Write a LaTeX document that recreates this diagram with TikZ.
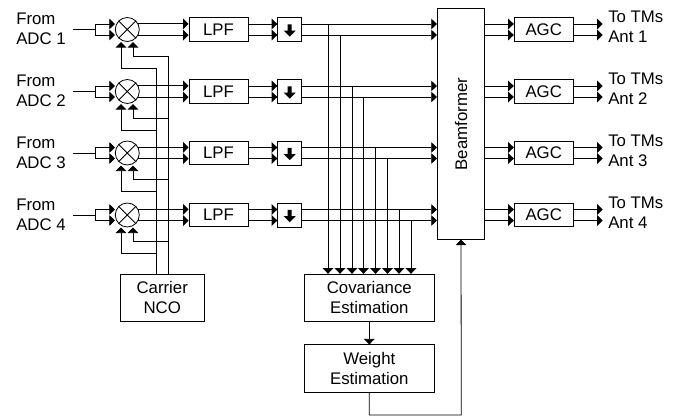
\documentclass[tikz,border=0pt]{standalone}
\usepackage{fontspec}
\setmainfont{Liberation Sans}
\usetikzlibrary{arrows.meta}
\tikzset{
  wire/.style={line width=0.6pt,draw=black},
  sig/.style={wire,-{Triangle[length=4.2pt,width=8pt]}},
  lbl/.style={font=\fontsize{12.6}{15}\selectfont,inner sep=0pt,align=center},
  side/.style={lbl,align=left,anchor=west},
  box/.style={draw=black,line width=0.6pt,fill=white,inner sep=0pt,lbl},
  lpfbox/.style={box,minimum width=44.25pt,minimum height=17.6pt},
  dsbox/.style={box,minimum width=18pt,minimum height=18pt},
  agcbox/.style={box,minimum width=44.25pt,minimum height=17.6pt},
  bigbox/.style={box,minimum width=98pt,minimum height=35.4pt},
  mixer/.style={circle,draw=black,line width=0.6pt,inner sep=0pt,minimum size=18pt,fill=white},
}
\begin{document}
\begin{tikzpicture}[x=0.75pt,y=-0.75pt]
\useasboundingbox (0,0) rectangle (682,416);
% main blocks
\node[box,minimum width=35.6pt,minimum height=172.8pt] (bf) at (461,124) {\rotatebox{90}{Beamformer}};
\node[box,minimum width=62.6pt,minimum height=35.4pt] (nco) at (162.25,297.8) {Carrier\\NCO};
\node[bigbox] (cov) at (369.3,297.8) {Covariance\\Estimation};
\node[bigbox] (wgt) at (369.3,368.5) {Weight\\Estimation};
\coordinate (busa) at (156.5,274.3);
\coordinate (busb) at (168,274.3);
\foreach \n/\c/\tx/\bx in {1/29.5/328/340,2/91.5/352/363.5,3/153/375.5/387.5,4/215/399/411}{
  \node[side] (from\n) at (16,{\c-0.5}) {From\\ADC \n};
  \coordinate (inp\n) at (73,\c);
  \coordinate (brk\n) at (95,\c);
  \coordinate (top\n) at (95,{\c-5.5});
  \coordinate (bot\n) at (95,{\c+5.5});
  \node[mixer] (mix\n) at (127.3,\c) {};
  \draw[wire] (mix\n.45) -- (mix\n.225) (mix\n.135) -- (mix\n.-45);
  \node[lpfbox] (lpf\n) at (218.5,\c) {LPF};
  \node[dsbox] (ds\n) at (289.7,\c) {};
  \fill (287.7,{\c-5.2}) -- (291.7,{\c-5.2}) -- (291.7,{\c+1.2}) -- (295.7,{\c+1.2}) -- (289.7,{\c+7.2}) -- (283.7,{\c+1.2}) -- (287.7,{\c+1.2}) -- cycle;
  \node[agcbox] (agc\n) at (543.7,\c) {AGC};
  \node[side] (out\n) at (608,{\c-2.5}) {To TMs\\Ant \n};
  \coordinate (outa\n) at (602.7,{\c-5.5});
  \coordinate (outb\n) at (602.7,{\c+5.5});
  % input
  \draw[wire] (inp\n) -- (brk\n) (top\n) -- (bot\n);
  \draw[sig] (top\n) -- (top\n -| mix\n.west);
  \draw[sig] (bot\n) -- (bot\n -| mix\n.west);
  % mixer to LPF
  \draw[sig] (mix\n.27) -- (mix\n.27 -| lpf\n.west);
  \draw[sig] (mix\n.-27) -- (mix\n.-27 -| lpf\n.west);
  % LPF to downsampler
  \draw[sig] (top\n -| lpf\n.east) -- (top\n -| ds\n.west);
  \draw[sig] (bot\n -| lpf\n.east) -- (bot\n -| ds\n.west);
  % downsampler to beamformer
  \draw[sig] (top\n -| ds\n.east) -- (top\n -| bf.west);
  \draw[sig] (bot\n -| ds\n.east) -- (bot\n -| bf.west);
  % beamformer to AGC
  \draw[sig] (top\n -| bf.east) -- (top\n -| agc\n.west);
  \draw[sig] (bot\n -| bf.east) -- (bot\n -| agc\n.west);
  % AGC to output
  \draw[sig] (top\n -| agc\n.east) -- (outa\n);
  \draw[sig] (bot\n -| agc\n.east) -- (outb\n);
  % taps to covariance
  \coordinate (tt\n) at (\tx,{\c-5.5});
  \coordinate (tb\n) at (\bx,{\c+5.5});
  \draw[sig] (tt\n) -- (tt\n |- cov.north);
  \draw[sig] (tb\n) -- (tb\n |- cov.north);
  % NCO feeds
  \coordinate (fa\n) at (156.5,{\c+38.5});
  \coordinate (fb\n) at (168,{\c+26.5});
  \coordinate (ma\n) at (121,{\c+12.5});
  \coordinate (mb\n) at (133,{\c+12.5});
  \draw[sig] (fa\n) -- (fa\n -| ma\n) -- (ma\n);
  \draw[sig] (fb\n) -- (fb\n -| mb\n) -- (mb\n);
}
\draw[wire] (busa) -- (fa1);
\draw[wire] (busb) -- (fb1);
\draw[sig] (cov.south) -- (wgt.north);
\coordinate (loopa) at (369.3,415);
\coordinate (loopb) at (461.3,415);
\draw[sig] (wgt.south) -- (loopa) -- (loopb) -- (bf.south);
\end{tikzpicture}
\end{document}
